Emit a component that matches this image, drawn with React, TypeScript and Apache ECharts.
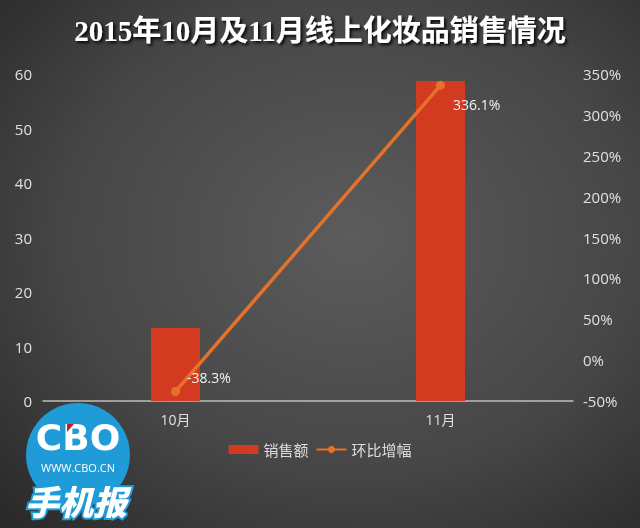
import React, { useEffect, useRef } from "react";
import * as echarts from "echarts";

const categories = ["10月", "11月"];
const salesValues = [13.4, 58.7];
const growthValues = [-38.3, 336.1];
const seriesNames = ["销售额", "环比增幅"];
const titleText = "2015年10月及11月线上化妆品销售情况";

export default function App() {
  const ref = useRef<HTMLDivElement>(null);
  useEffect(() => {
    if (!ref.current) return;
    const chart = echarts.init(ref.current, null, { renderer: "svg" });
    const cjk = "'Open Sans', 'Noto Sans CJK SC', sans-serif";
    chart.setOption({
      animation: false,
      backgroundColor: new echarts.graphic.RadialGradient(0.55, 0.45, 0.75, [
        { offset: 0, color: "#5c5c5c" },
        { offset: 0.6, color: "#464646" },
        { offset: 1, color: "#2a2a2a" },
      ]),
      title: {
        text: titleText,
        left: "center",
        top: 11,
        textStyle: {
          color: "#ffffff",
          fontSize: 29,
          fontWeight: "bold",
          fontFamily: "'Liberation Serif', 'Noto Sans CJK SC', serif",
          textShadowColor: "rgba(0,0,0,0.9)",
          textShadowBlur: 3,
          textShadowOffsetX: 2,
          textShadowOffsetY: 2,
        },
      },
      legend: {
        data: [
          { name: seriesNames[0], icon: "rect" },
          { name: seriesNames[1] },
        ],
        left: "center",
        top: 437,
        itemWidth: 30,
        itemHeight: 9,
        itemGap: 7,
        textStyle: { color: "#dddddd", fontSize: 15, fontFamily: cjk },
      },
      grid: { left: 43, right: 67, top: 74, bottom: 127 },
      xAxis: {
        type: "category",
        data: categories,
        axisLine: { lineStyle: { color: "#bdbdbd", width: 1.5 } },
        axisTick: { show: false },
        axisLabel: { color: "#e0e0e0", fontSize: 14, fontFamily: cjk, margin: 11 },
      },
      yAxis: [
        {
          type: "value",
          min: 0,
          max: 60,
          interval: 10,
          axisLine: { show: false },
          axisTick: { show: false },
          splitLine: { show: false },
          axisLabel: { color: "#e0e0e0", fontSize: 15, fontFamily: cjk, margin: 11 },
        },
        {
          type: "value",
          min: -50,
          max: 350,
          interval: 50,
          axisLine: { show: false },
          axisTick: { show: false },
          splitLine: { show: false },
          axisLabel: {
            color: "#e0e0e0",
            fontSize: 15,
            fontFamily: cjk,
            margin: 10,
            formatter: "{value}%",
          },
        },
      ],
      series: [
        {
          name: seriesNames[0],
          type: "bar",
          data: salesValues,
          barWidth: 49,
          itemStyle: { color: "#d33b20" },
        },
        {
          name: seriesNames[1],
          type: "line",
          yAxisIndex: 1,
          data: [
            { value: growthValues[0], label: { position: [16, -16] } },
            { value: growthValues[1], label: { position: [17, 17] } },
          ],
          symbol: "circle",
          symbolSize: 9,
          lineStyle: { color: "#e4722a", width: 3.5 },
          itemStyle: { color: "#e4722a" },
          label: {
            show: true,
            color: "#f2f2f2",
            fontSize: 14,
            fontFamily: cjk,
            formatter: (p: any) => p.value + "%",
          },
        },
      ],
      graphic: [
        {
          type: "circle",
          shape: { cx: 78, cy: 455, r: 52 },
          style: { fill: "#1f9bd8" },
        },
        {
          type: "text",
          x: 78,
          y: 437,
          style: {
            text: "CBO",
            fill: "#ffffff",
            font: "900 36px 'DejaVu Sans', sans-serif",
            align: "center",
            verticalAlign: "middle",
          },
        },
        {
          type: "polygon",
          shape: { points: [[67, 424], [74, 424], [67, 432]] },
          style: { fill: "#c0202a" },
        },
        {
          type: "text",
          x: 78,
          y: 467,
          style: {
            text: "WWW.CBO.CN",
            fill: "#ffffff",
            font: "11px 'Open Sans', sans-serif",
            align: "center",
            verticalAlign: "middle",
          },
        },
        {
          type: "text",
          x: 76,
          y: 500,
          style: {
            text: "手机报",
            fill: "#ffffff",
            stroke: "#1f9bd8",
            lineWidth: 4,
            font: "italic 900 34px 'Noto Sans CJK SC', sans-serif",
            align: "center",
            verticalAlign: "middle",
          },
        },
      ],
    });
    return () => chart.dispose();
  }, []);
  return (
    <div
      ref={ref}
      style={{ position: "fixed", left: 0, top: 0, width: 640, height: 528 }}
    />
  );
}
